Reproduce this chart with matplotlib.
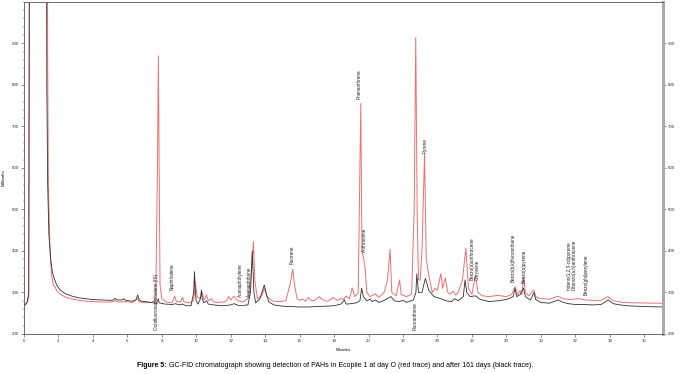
import matplotlib
matplotlib.use("Agg")
import matplotlib.pyplot as plt
from matplotlib.ticker import MultipleLocator

# GC-FID traces (minutes, millivolts)
black_t = [0.00, 0.10, 0.20, 0.28, 0.33, 1.30, 1.33, 1.38, 1.45, 1.55, 1.65, 1.75, 1.90, 2.10, 2.40,
           2.80, 3.20, 3.60, 4.00, 4.50, 5.00, 5.20, 5.30, 5.40, 5.70, 5.80, 5.90, 6.30, 6.50, 6.60,
           6.70, 6.80, 7.20, 7.50, 7.70, 7.80, 7.85, 8.20, 8.60, 8.80, 9.00, 9.20, 9.40, 9.70, 9.85,
           9.90, 9.95, 10.00, 10.10, 10.25, 10.30, 10.35, 10.45, 10.60, 10.70, 11.00, 11.50, 12.00, 12.20, 12.50,
           13.00, 13.15, 13.25, 13.35, 13.45, 13.70, 13.85, 13.95, 14.05, 14.20, 14.50, 15.00, 15.50, 16.00, 16.50,
           17.00, 17.50, 18.00, 18.40, 18.60, 18.70, 19.00, 19.30, 19.50, 19.60, 19.70, 19.90, 20.10, 20.20, 20.40,
           20.60, 20.80, 21.00, 21.30, 21.50, 21.80, 22.00, 22.20, 22.40, 22.60, 22.75, 22.80, 22.90, 23.10, 23.30,
           23.50, 23.80, 24.20, 24.50, 24.80, 25.00, 25.20, 25.50, 25.60, 25.70, 25.90, 26.20, 26.50, 27.00, 27.50,
           28.00, 28.40, 28.50, 28.60, 28.80, 29.00, 29.10, 29.40, 29.60, 29.70, 30.00, 30.50, 31.00, 31.30, 31.60,
           32.00, 32.50, 33.00, 33.50, 33.90, 34.20, 34.60, 35.00, 36.00, 37.10]
black_mv = [270, 272, 278, 300, 1500, 1500, 800, 560, 440, 380, 350, 335, 318, 306, 297,
            291, 287, 285, 283, 282, 281, 282, 286, 282, 282, 285, 281, 279, 282, 294,
            282, 279, 277, 275, 274, 285, 275, 272, 271, 273, 270, 272, 268, 268, 300,
            350, 300, 280, 272, 285, 306, 285, 275, 280, 272, 270, 268, 270, 273, 268,
            270, 300, 400, 300, 275, 285, 305, 318, 300, 278, 270, 267, 266, 265, 265,
            266, 267, 268, 272, 282, 272, 273, 275, 280, 310, 290, 280, 284, 278, 282,
            276, 279, 283, 290, 280, 278, 281, 276, 279, 282, 300, 345, 300, 300, 334,
            305, 290, 285, 280, 278, 285, 280, 290, 330, 300, 290, 292, 283, 278, 280,
            283, 290, 310, 290, 295, 310, 290, 282, 300, 283, 276, 274, 282, 276, 273,
            271, 271, 270, 271, 282, 273, 270, 268, 266, 265]

red_t = [0.00, 0.10, 0.20, 0.28, 0.35, 1.35, 1.38, 1.42, 1.50, 1.60, 1.70, 1.80, 1.90, 2.10, 2.40,
         2.80, 3.20, 3.60, 4.00, 4.50, 5.00, 5.30, 5.50, 5.90, 6.30, 6.60, 6.70, 7.00, 7.40, 7.65,
         7.75, 7.80, 7.85, 7.90, 8.00, 8.30, 8.60, 8.75, 8.85, 9.10, 9.20, 9.30, 9.60, 9.85, 9.95,
         10.05, 10.20, 10.35, 10.45, 10.60, 10.70, 10.90, 11.00, 11.30, 11.70, 11.90, 12.00, 12.20, 12.40, 12.70,
         13.00, 13.15, 13.25, 13.32, 13.40, 13.55, 13.80, 13.95, 14.10, 14.40, 14.80, 15.20, 15.45, 15.60, 15.70,
         15.85, 16.00, 16.20, 16.35, 16.50, 16.70, 16.90, 17.00, 17.15, 17.30, 17.50, 17.65, 17.80, 17.95, 18.10,
         18.25, 18.40, 18.55, 18.70, 18.90, 19.05, 19.20, 19.40, 19.50, 19.55, 19.62, 19.70, 19.80, 19.90, 20.10,
         20.40, 20.60, 20.90, 21.10, 21.25, 21.35, 21.60, 21.80, 21.90, 22.20, 22.50, 22.65, 22.74, 22.82, 22.90,
         23.00, 23.10, 23.25, 23.35, 23.50, 23.70, 23.85, 24.00, 24.20, 24.30, 24.45, 24.60, 24.75, 24.90, 25.05,
         25.20, 25.45, 25.65, 25.80, 26.00, 26.20, 26.35, 26.60, 27.00, 27.50, 28.00, 28.30, 28.50, 28.65, 28.80,
         28.90, 29.00, 29.10, 29.30, 29.60, 29.70, 30.00, 30.50, 31.00, 31.30, 31.70, 32.20, 32.60, 33.00, 33.50,
         33.90, 34.20, 34.80, 35.50, 37.10]
red_mv = [268, 270, 276, 290, 1500, 1500, 856, 560, 420, 345, 318, 314, 305, 296, 289,
          284, 281, 279, 278, 277, 277, 280, 277, 278, 276, 285, 277, 276, 276, 280,
          600, 870, 600, 320, 285, 276, 276, 291, 278, 277, 288, 277, 275, 280, 326,
          290, 285, 300, 282, 294, 280, 285, 277, 276, 278, 290, 282, 291, 280, 277,
          285, 330, 370, 422, 330, 285, 292, 310, 290, 280, 278, 280, 320, 356, 320,
          285, 281, 284, 279, 288, 280, 281, 286, 290, 283, 280, 279, 284, 288, 283,
          281, 286, 283, 291, 285, 311, 290, 300, 600, 755, 400, 385, 360, 300, 290,
          297, 288, 300, 330, 404, 300, 292, 330, 295, 290, 296, 500, 914, 500, 330,
          330, 400, 633, 380, 340, 300, 310, 305, 346, 310, 335, 300, 296, 303, 294,
          300, 330, 407, 310, 295, 342, 300, 292, 290, 293, 290, 295, 314, 295, 305,
          295, 337, 300, 292, 306, 290, 285, 284, 291, 285, 283, 285, 282, 281, 281,
          290, 280, 276, 275, 274]

# peak labels: name, retention time, millivolt level of the label's foot
peak_names = ["Octafluoronaphthalene (IS)", "Naphthalene", "Acenaphthylene", "Acenaphthene", "Fluorene",
              "Phenanthrene", "Anthracene", "Fluoranthene", "Pyrene", "Benzo(a)anthracene", "Chrysene",
              "Benzo(b,k)fluoranthene", "Benzo(a)pyrene", "Indeno(1,2,3-cd)pyrene",
              "Dibenzo(a,h)anthracene", "Benzo(ghi)perylene"]
peak_times = [7.72, 8.6, 12.55, 13.07, 15.56, 19.45, 19.75, 22.7, 23.29, 26.02, 26.3,
              28.4, 29.05, 31.65, 31.93, 32.62]
peak_feet = [210, 306, 289, 289, 368, 765, 397, 210, 637, 330, 330, 325, 322, 305, 305, 294]

plt.rcParams['font.family'] = ['Liberation Sans', 'DejaVu Sans']

fig = plt.figure(figsize=(6.83, 3.74), dpi=100)
ax = fig.add_axes([0.035, 0.107, 0.936, 0.888])

ax.plot(red_t, red_mv, color='#f07070', lw=0.7)
ax.plot(black_t, black_mv, color='#303030', lw=0.6)

for name, t, v in zip(peak_names, peak_times, peak_feet):
    ax.text(t, v, name, rotation=90, ha='center', va='bottom', fontsize=3.3, color='#222222')

ax.set_xlim(0, 37.1)
ax.set_ylim(200, 1000)
ax.set_xticks(range(0, 37, 2))
ax.set_yticks(range(200, 1000, 100))
ax.xaxis.set_minor_locator(MultipleLocator(0.2))
ax.yaxis.set_minor_locator(MultipleLocator(20))
ax.tick_params(which='both', direction='out', labelsize=3.2, colors='#333333',
               right=True, labelright=True)
ax.tick_params(which='major', length=2, width=0.4, pad=1.5)
ax.tick_params(which='minor', length=1, width=0.3)
for side in ['left', 'top', 'bottom']:
    ax.spines[side].set_linewidth(0.6)
    ax.spines[side].set_color('#555555')
ax.spines['right'].set_linewidth(2.2)
ax.spines['right'].set_color('#aaaaaa')

ax.set_xlabel('Minutes', fontsize=3.2, labelpad=4)
ax.set_ylabel('Millivolts', fontsize=3.2)
ax.yaxis.set_label_coords(-0.029, 0.47)

# caption with bold lead-in
fig.canvas.draw()
lead = fig.text(0.2, 0.022, 'Figure 5:', fontsize=5, fontweight='bold', ha='left', va='center')
fig.canvas.draw()
w = lead.get_window_extent().width / fig.bbox.width
fig.text(0.2 + w + 0.004, 0.022,
         'GC-FID chromatograph showing detection of PAHs in Ecopile 1 at day O (red trace) and after 161 days (black trace).',
         fontsize=5, ha='left', va='center')

fig.savefig('out.png', dpi=100)
